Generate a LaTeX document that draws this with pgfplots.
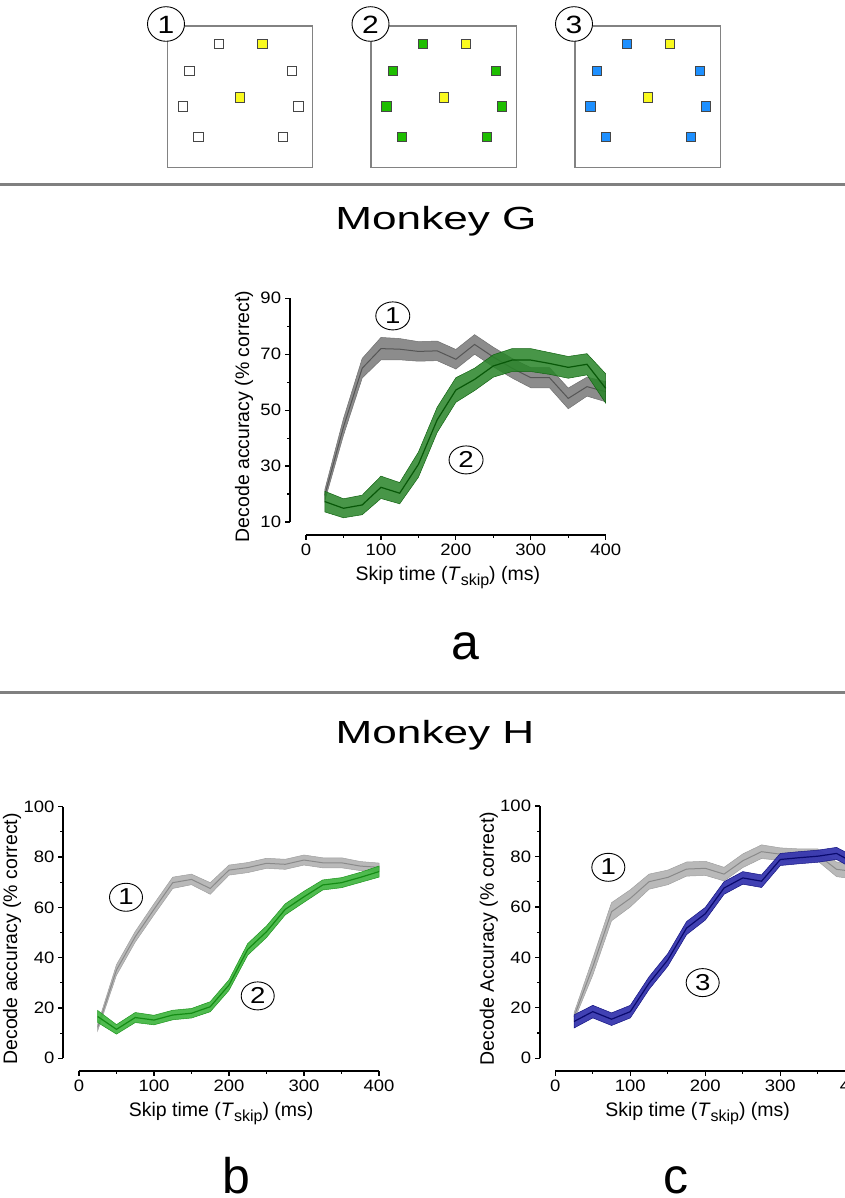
\documentclass[border=0pt]{standalone}
\usepackage{graphicx}
\usepackage{fontspec}
\setmainfont{Liberation Sans}
\usepackage{pgfplots}
\pgfplotsset{compat=1.18}

\definecolor{bandGa}{RGB}{140,140,140}
\definecolor{edgeGa}{RGB}{112,112,112}
\definecolor{lineGa}{RGB}{85,85,85}
\definecolor{bandNa}{RGB}{40,132,40}
\definecolor{edgeNa}{RGB}{18,100,18}
\definecolor{lineNa}{RGB}{8,88,8}
\definecolor{bandGb}{RGB}{185,185,185}
\definecolor{edgeGb}{RGB}{160,160,160}
\definecolor{lineGb}{RGB}{138,138,138}
\definecolor{bandNb}{RGB}{60,180,60}
\definecolor{edgeNb}{RGB}{30,150,30}
\definecolor{lineNb}{RGB}{20,140,20}
\definecolor{bandB}{RGB}{55,55,175}
\definecolor{edgeB}{RGB}{20,20,130}
\definecolor{lineB}{RGB}{10,10,110}
\definecolor{sqY}{RGB}{250,250,30}
\definecolor{sqG}{RGB}{30,190,0}
\definecolor{sqB}{RGB}{30,144,255}
\definecolor{sqE}{RGB}{70,70,70}
\definecolor{boxC}{RGB}{130,130,130}
\definecolor{sepC}{RGB}{128,128,128}

\newcommand{\fsz}[1]{\fontsize{#1}{#1}\selectfont}
\newcommand{\skiplabel}{Skip time (\textit{T}\raisebox{-5.5pt}{\fsz{16}skip}) (ms)}

\tikzset{circ/.style={draw=black, line width=0.9pt}}
\pgfplotsset{
  panel/.style={
    scale only axis, clip=false,
    axis x line*=bottom, axis y line*=left,
    axis line style={draw=none},
    tick align=outside,
    major tick length=5pt, minor tick length=3pt,
    every major tick/.append style={black, line width=1.2pt},
    every minor tick/.append style={black, line width=1.2pt},
    minor x tick num=1, minor y tick num=1,
    xtick={0,100,200,300,400}, xmax=400,
    /pgf/number format/assume math mode=true,
    tick label style={font=\fsz{16.5}, xscale=1.12},
    label style={font=\fsz{19.5}},
    xlabel={\skiplabel},
    xlabel style={yshift=-4pt},
    ylabel shift=-5pt,
  },
}

\begin{document}
\begin{tikzpicture}
\path[use as bounding box] (0pt,0pt) rectangle (845pt,1198pt);

% canvas in pixel coordinates
\begin{axis}[at={(0pt,0pt)}, anchor=south west, scale only axis,
  width=845pt, height=1198pt, xmin=0, xmax=845, ymin=0, ymax=1198,
  y dir=reverse, hide axis, clip=false]
  \draw[boxC, line width=1.3pt] (axis cs:167.3,26) rectangle (axis cs:312.7,167.7);
  \draw[boxC, line width=1.3pt] (axis cs:371,26) rectangle (axis cs:516.3,167.7);
  \draw[boxC, line width=1.3pt] (axis cs:575,26) rectangle (axis cs:720.3,167.7);
  \addplot[only marks, mark=square*, mark size=4.75pt,
    mark options={fill=white, draw=sqE, line width=0.8pt}] coordinates {
    (219,43.7) (189.3,70.7) (292,70.7) (182.7,106.3) (298.3,106.3) (198.3,136.7) (283,136.7)};
  \addplot[only marks, mark=square*, mark size=4.75pt,
    mark options={fill=sqG, draw=sqE, line width=0.8pt}] coordinates {
    (422.7,43.7) (393,70.7) (495.7,70.7) (386.4,106.3) (502,106.3) (402,136.7) (486.7,136.7)};
  \addplot[only marks, mark=square*, mark size=4.75pt,
    mark options={fill=sqB, draw=sqE, line width=0.8pt}] coordinates {
    (626.7,43.7) (597,70.7) (699.7,70.7) (590.4,106.3) (706,106.3) (606,136.7) (690.7,136.7)};
  \addplot[only marks, mark=square*, mark size=4.75pt,
    mark options={fill=sqY, draw=sqE, line width=0.8pt}] coordinates {
    (262.3,43.7) (240,97.3) (466,43.7) (443.7,97.3) (670,43.7) (647.7,97.3)};
  \draw[circ, fill=white] (axis cs:166,24) ellipse [x radius=18.5pt, y radius=17.3pt];
  \draw[circ, fill=white] (axis cs:370.5,24) ellipse [x radius=18.5pt, y radius=17.3pt];
  \draw[circ, fill=white] (axis cs:574,24) ellipse [x radius=18.5pt, y radius=17.3pt];
  \node[xscale=1.2] at (axis cs:166,24.5) {\fsz{25}1};
  \node[xscale=1.2] at (axis cs:370.5,24.5) {\fsz{25}2};
  \node[xscale=1.2] at (axis cs:574,24.5) {\fsz{25}3};
  \draw[sepC, line width=3pt] (axis cs:0,185) -- (axis cs:845,185);
  \draw[sepC, line width=3pt] (axis cs:0,692) -- (axis cs:845,692);
  \node[anchor=base, xscale=1.38] at (axis cs:436,229.3) {\fsz{32}Monkey G};
  \node[anchor=base, xscale=1.38] at (axis cs:435,743.3) {\fsz{32}Monkey H};
  \node[anchor=base, inner sep=0pt, text depth=0pt] at (axis cs:465,659) {\fsz{50}a};
  \node[anchor=base, inner sep=0pt, text depth=0pt] at (axis cs:236,1193) {\fsz{50}b};
  \node[anchor=base, inner sep=0pt, text depth=0pt] at (axis cs:676,1193) {\fsz{50}c};
\end{axis}

% panel a
\begin{axis}[panel, at={(290pt,663pt)}, anchor=south west,
  width=315.7pt, height=236.7pt,
  xmin=-21.4, ymin=5.35, ymax=90, ytick={10,30,50,70,90},
  ylabel shift=0pt,
  ylabel={Decode accuracy (\% correct)}]
  % condition 1 band (upper edge forward, lower edge back)
  \addplot[fill=bandGa, draw=edgeGa, line width=0.5pt] coordinates {
    (25,21.5)(50,47)(75,68.5)(100,76)(125,75.6)(150,74.5)(175,74.7)(200,71.7)(225,77)(250,72.5)(275,68.5)(300,65.2)(325,65.2)(350,57.9)(375,61.8)(400,60.2)
    (400,53)(375,55)(350,50.5)(325,58)(300,58)(275,61.5)(250,65.5)(225,70)(200,64.7)(175,67.7)(150,67.5)(125,68)(100,68)(75,61.5)(50,41)(25,17.5)} -- cycle;
  \addplot[lineGa, line width=1pt] coordinates {
    (25,19.5)(50,44)(75,65)(100,72)(125,71.8)(150,71)(175,71.2)(200,68.2)(225,73.5)(250,69)(275,65)(300,61.6)(325,61.6)(350,54.2)(375,58.4)(400,56.6)};
  % condition 2 band
  \addplot[fill=bandNa, fill opacity=0.85, draw=edgeNa, line width=0.5pt] coordinates {
    (25,21)(50,18.3)(75,19.6)(100,26.4)(125,24.1)(150,35)(175,51)(200,61.6)(225,65)(250,69.8)(275,72)(300,72)(325,70.6)(350,69.2)(375,70.2)(400,63)
    (400,52.5)(375,62.6)(350,61.4)(325,62.8)(300,63.8)(275,63.8)(250,61.8)(225,57)(200,52.8)(175,42)(150,26)(125,16.5)(100,18.4)(75,12.6)(50,11.5)(25,13.6)} -- cycle;
  \addplot[lineNa, line width=1.2pt] coordinates {
    (25,17.3)(50,14.9)(75,16.1)(100,22.4)(125,20.3)(150,30.6)(175,46.5)(200,57.2)(225,61)(250,65.8)(275,67.9)(300,67.9)(325,66.7)(350,65.3)(375,66.4)(400,57.8)};
  \draw[line width=1.7pt] (axis cs:-21.4,10) -- (axis cs:-21.4,90);
  \draw[line width=1.7pt] (axis cs:0,5.35) -- (axis cs:400,5.35);
  \draw[circ] (axis cs:115.8,83.7) ellipse [x radius=17pt, y radius=14pt];
  \node[xscale=1.2] at (axis cs:115.8,83.9) {\fsz{23}1};
  \draw[circ] (axis cs:213.6,32.2) ellipse [x radius=17pt, y radius=14pt];
  \node[xscale=1.2] at (axis cs:213.6,32.4) {\fsz{23}2};
\end{axis}

% panel b
\begin{axis}[panel, at={(63.3pt,127pt)}, anchor=south west,
  width=315.7pt, height=264.3pt,
  xmin=-20.9, ymin=-5.05, ymax=100, ytick={0,20,40,60,80,100},
  ylabel={Decode accuracy (\% correct)}]
  \addplot[fill=bandGb, draw=edgeGb, line width=0.5pt] coordinates {
    (25,13.6)(50,37.2)(75,50.4)(100,61.4)(125,72)(150,73.2)(175,69.8)(200,76.8)(225,77.8)(250,79.5)(275,79.1)(300,80.8)(325,79.7)(350,79.7)(375,78.2)(400,77.6)
    (400,74.2)(375,74.6)(350,75.7)(325,75.7)(300,76.8)(275,75.1)(250,75.5)(225,73.8)(200,72.8)(175,65.2)(150,69)(125,67.5)(100,57)(75,46.2)(50,33)(25,11)} -- cycle;
  \addplot[lineGb, line width=1pt] coordinates {
    (25,12.3)(50,35.1)(75,48.3)(100,59.2)(125,69.8)(150,71.1)(175,67.5)(200,74.8)(225,75.8)(250,77.5)(275,77.1)(300,78.8)(325,77.7)(350,77.7)(375,76.4)(400,75.9)};
  \addplot[fill=bandNb, fill opacity=0.9, draw=edgeNb, line width=0.5pt] coordinates {
    (25,19)(50,13.4)(75,18.2)(100,17.1)(125,19.1)(150,19.8)(175,22.5)(200,31.2)(225,45.6)(250,52.6)(275,61.4)(300,66.4)(325,70.9)(350,71.8)(375,73.9)(400,76.4)
    (400,72)(375,69.9)(350,67.8)(325,66.9)(300,62)(275,57)(250,48)(225,41)(200,27)(175,18.5)(150,16)(125,15.3)(100,13.3)(75,14.2)(50,9.6)(25,14.2)} -- cycle;
  \addplot[lineNb, line width=1.2pt] coordinates {
    (25,16.6)(50,11.5)(75,16.2)(100,15.2)(125,17.2)(150,17.9)(175,20.5)(200,29.1)(225,43.3)(250,50.3)(275,59.2)(300,64.2)(325,68.9)(350,69.8)(375,71.9)(400,74.2)};
  \draw[line width=1.7pt] (axis cs:-20.9,0) -- (axis cs:-20.9,100);
  \draw[line width=1.7pt] (axis cs:0,-5.05) -- (axis cs:400,-5.05);
  \draw[circ] (axis cs:62.7,64) ellipse [x radius=16.5pt, y radius=14pt];
  \node[xscale=1.2] at (axis cs:62.7,64.1) {\fsz{23}1};
  \draw[circ] (axis cs:238.3,24.8) ellipse [x radius=16.5pt, y radius=14pt];
  \node[xscale=1.2] at (axis cs:238.3,24.9) {\fsz{23}2};
\end{axis}

% panel c
\begin{axis}[panel, at={(540pt,127pt)}, anchor=south west,
  width=315.3pt, height=265pt,
  xmin=-20.4, ymin=-5.03, ymax=100, ytick={0,20,40,60,80,100},
  ylabel={Decode Accuracy (\% correct)}]
  \addplot[fill=bandGb, draw=edgeGb, line width=0.5pt] coordinates {
    (25,18)(50,39.6)(75,61.7)(100,66.8)(125,73)(150,74.6)(175,77.8)(200,78.1)(225,75.7)(250,81)(275,84.6)(300,83.4)(325,83)(350,83)(375,77.8)(400,77)
    (400,71)(375,72)(350,78.2)(325,78.2)(300,78.4)(275,79.2)(250,75.6)(225,70.3)(200,72.5)(175,72.2)(150,68.8)(125,67)(100,60)(75,54.5)(50,33)(25,15)} -- cycle;
  \addplot[lineGb, line width=1pt] coordinates {
    (25,16.5)(50,36.3)(75,58.1)(100,63.4)(125,70)(150,71.7)(175,75)(200,75.3)(225,73)(250,78.3)(275,81.9)(300,80.9)(325,80.6)(350,80.6)(375,74.9)(400,74)};
  \addplot[fill=bandB, fill opacity=0.95, draw=edgeB, line width=0.5pt] coordinates {
    (25,17.2)(50,21)(75,18)(100,21)(125,32.3)(150,41.5)(175,54.2)(200,59.8)(225,70)(250,74)(275,72.7)(300,81.2)(325,81.9)(350,82.5)(375,83.6)(400,79.7)
    (400,74.7)(375,78.8)(350,77.7)(325,77.1)(300,76.4)(275,67.7)(250,69)(225,65)(200,54.8)(175,49)(150,36.5)(125,27.3)(100,16)(75,13)(50,16)(25,12)} -- cycle;
  \addplot[lineB, line width=1.2pt] coordinates {
    (25,14.6)(50,18.5)(75,15.5)(100,18.5)(125,29.8)(150,39)(175,51.6)(200,57.3)(225,67.5)(250,71.5)(275,70.2)(300,78.8)(325,79.5)(350,80.1)(375,81.2)(400,77.2)};
  \draw[line width=1.7pt] (axis cs:-20.4,0) -- (axis cs:-20.4,100);
  \draw[line width=1.7pt] (axis cs:0,-5.03) -- (axis cs:400,-5.03);
  \draw[circ] (axis cs:70.7,75.7) ellipse [x radius=16.5pt, y radius=14pt];
  \node[xscale=1.2] at (axis cs:70.7,75.8) {\fsz{23}1};
  \draw[circ] (axis cs:196.5,30) ellipse [x radius=16.5pt, y radius=14pt];
  \node[xscale=1.2] at (axis cs:196.5,30.1) {\fsz{23}3};
\end{axis}
\end{tikzpicture}
\end{document}
